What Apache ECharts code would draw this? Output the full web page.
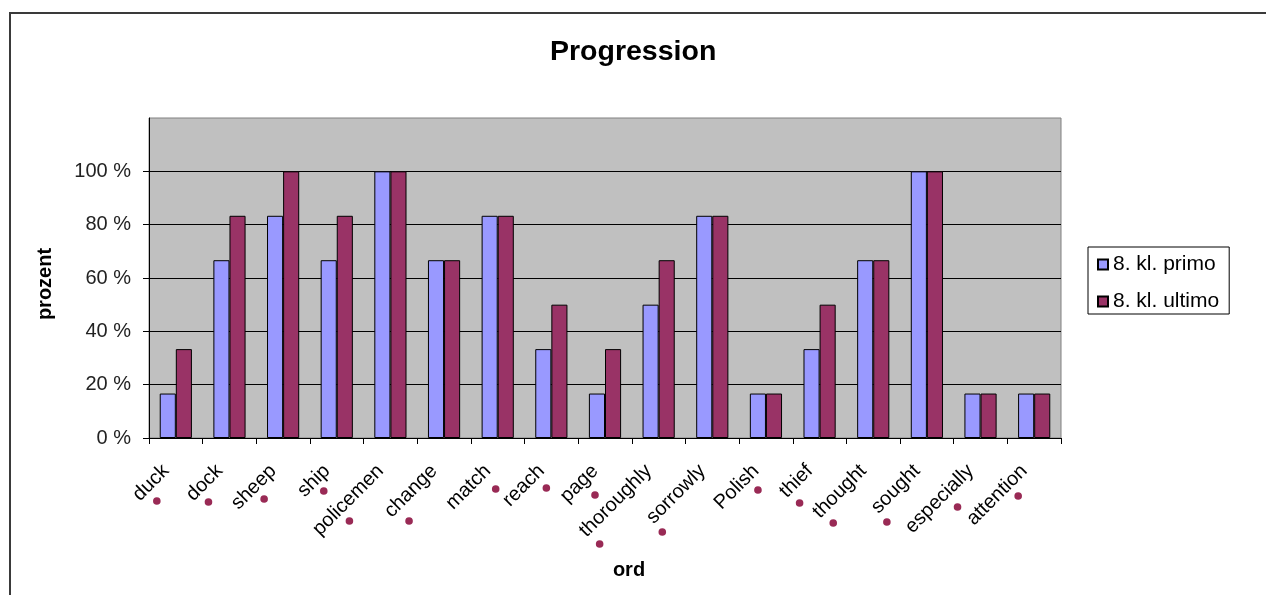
<!DOCTYPE html>
<html>
<head>
<meta charset="utf-8">
<title>Progression</title>
<script src="https://cdn.jsdelivr.net/npm/echarts@6/dist/echarts.min.js"></script>
<style>
  html, body { margin: 0; padding: 0; background: #fff; }
  #chart { width: 1266px; height: 595px; }
</style>
</head>
<body>
<div id="chart"></div>
<script>
// Words tested, and the share (in %) of correct answers per class round
const categories = ['duck', 'dock', 'sheep', 'ship', 'policemen', 'change', 'match', 'reach', 'page',
  'thoroughly', 'sorrowly', 'Polish', 'thief', 'thought', 'sought', 'especially', 'attention'];
const primo = [16.67, 66.67, 83.33, 66.67, 100, 66.67, 83.33, 33.33, 16.67, 50, 83.33, 16.67, 33.33, 66.67, 100, 16.67, 16.67];
const ultimo = [33.33, 83.33, 100, 83.33, 100, 66.67, 83.33, 50, 33.33, 66.67, 83.33, 16.67, 50, 66.67, 100, 16.67, 16.67];
const seriesNames = ['8. kl. primo', '8. kl. ultimo'];
const yTicks = { min: 0, max: 120, step: 20 };

// Pixel offsets of the red marker dots from each word's tick (below the axis)
const dotOffsets = [[-19, 63], [-21, 64], [-19, 61], [-13, 53], [-41, 83], [-35, 83], [-2, 51], [-5, 50], [-10, 57],
  [-59, 106], [-50, 94], [-8, 52], [-20, 65], [-40, 85], [-40, 84], [-23, 69], [-16, 58]];

const FONT = '"Liberation Sans", Arial, sans-serif';
const chart = echarts.init(document.getElementById('chart'), null, { renderer: 'canvas' });

chart.setOption({
  backgroundColor: '#fff',
  animation: false,
  title: {
    text: 'Progression',
    left: 545,
    top: 33,
    textStyle: { fontFamily: FONT, fontSize: 28.5, fontWeight: 'bold', color: '#000' }
  },
  graphic: [{
    type: 'rect',
    shape: { x: 10, y: 13, width: 1400, height: 800 },
    style: { fill: null, stroke: '#3a3a3a', lineWidth: 2 },
    silent: true,
    z: 100
  }],
  legend: {
    orient: 'vertical',
    left: 1088,
    top: 247,
    data: seriesNames,
    icon: 'rect',
    itemWidth: 10,
    itemHeight: 10,
    itemGap: 16,
    padding: [7, 10, 2, 9],
    borderColor: '#000',
    borderWidth: 1,
    backgroundColor: '#fff',
    textStyle: { fontFamily: FONT, fontSize: 21, color: '#000', lineHeight: 21 }
  },
  grid: {
    left: 149,
    top: 118,
    right: 205,
    bottom: 157,
    show: true,
    backgroundColor: '#c0c0c0',
    borderColor: '#808080',
    borderWidth: 1
  },
  xAxis: {
    type: 'category',
    data: categories,
    boundaryGap: true,
    name: 'ord',
    nameLocation: 'middle',
    nameGap: 122,
    nameTextStyle: { fontFamily: FONT, fontSize: 20, fontWeight: 'bold', color: '#000', padding: [0, 0, 0, 48] },
    axisLine: { lineStyle: { color: '#000', width: 1 } },
    axisTick: { show: true, length: 6, lineStyle: { color: '#000' } },
    axisLabel: {
      interval: 0,
      rotate: 45,
      margin: 20,
      padding: [0, 14, 0, 0],
      fontFamily: FONT,
      fontSize: 20,
      color: '#000'
    },
    splitLine: { show: false }
  },
  yAxis: {
    type: 'value',
    min: yTicks.min,
    max: yTicks.max,
    interval: yTicks.step,
    name: 'prozent',
    nameLocation: 'middle',
    nameRotate: 90,
    nameGap: 94,
    nameTextStyle: { fontFamily: FONT, fontSize: 20, fontWeight: 'bold', color: '#000', padding: [0, 12, 0, 0] },
    axisLine: { show: true, lineStyle: { color: '#000', width: 1 } },
    axisTick: { show: true, length: 6, lineStyle: { color: '#000' } },
    axisLabel: {
      formatter: '{value} %',
      showMaxLabel: false,
      margin: 18,
      fontFamily: FONT,
      fontSize: 20,
      color: '#222'
    },
    splitLine: { show: true, showMaxLine: false, lineStyle: { color: '#000', width: 1 } }
  },
  series: [
    {
      name: seriesNames[0],
      type: 'bar',
      data: primo,
      barGap: '0%',
      barCategoryGap: '40%',
      itemStyle: { color: '#9999ff', borderColor: '#000', borderWidth: 1 }
    },
    {
      name: seriesNames[1],
      type: 'bar',
      data: ultimo,
      barGap: '0%',
      barCategoryGap: '40%',
      itemStyle: { color: '#993366', borderColor: '#000', borderWidth: 1 }
    },
    {
      name: 'dots',
      type: 'custom',
      silent: true,
      clip: false,
      z: 10,
      data: categories.map((c, i) => [i, 0]),
      renderItem: function (params, api) {
        const p = api.coord([api.value(0), 0]);
        const off = dotOffsets[params.dataIndex];
        return {
          type: 'circle',
          shape: { cx: p[0] + off[0], cy: p[1] + off[1], r: 3.8 },
          style: { fill: '#992a55' }
        };
      }
    }
  ]
});
</script>
</body>
</html>
